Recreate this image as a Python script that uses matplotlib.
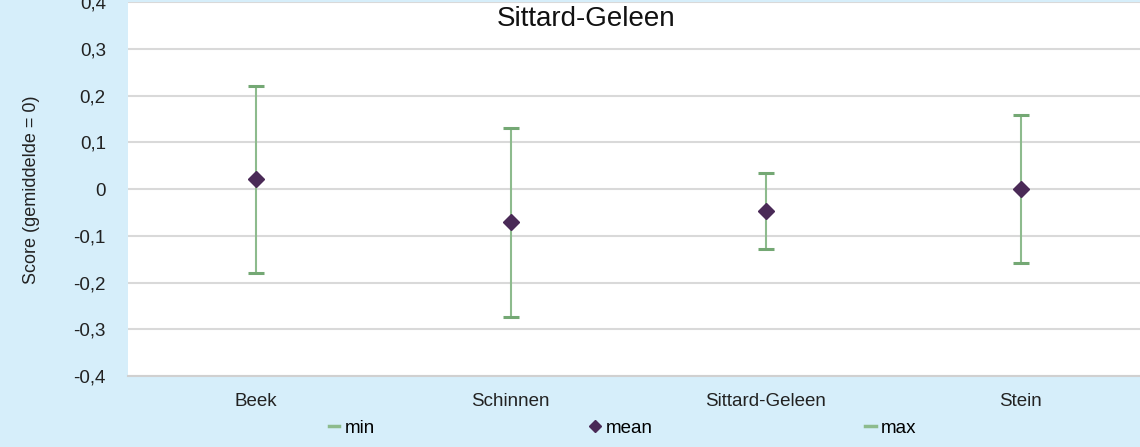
import matplotlib
matplotlib.use("Agg")
import matplotlib.pyplot as plt
from matplotlib.lines import Line2D
from matplotlib.ticker import FuncFormatter

categories = ["Beek", "Schinnen", "Sittard-Geleen", "Stein"]
min_vals = [-0.180, -0.273, -0.128, -0.158]
mean_vals = [0.021, -0.071, -0.047, 0.001]
max_vals = [0.220, 0.130, 0.034, 0.158]

plt.rcParams['font.family'] = ['Liberation Sans', 'DejaVu Sans']

W, H = 1140, 447
fig = plt.figure(figsize=(W/100, H/100), dpi=100)
bg = '#D6EEFA'
fig.patch.set_facecolor(bg)

ax = fig.add_axes([128/W, 1-376/H, 1020/W, 374/H])
ax.set_facecolor('white')
x = list(range(len(categories)))

green = '#8DBB8D'
capc = '#74A874'
purple = '#4A2A57'

ax.vlines(x, min_vals, max_vals, color=green, lw=1.5, zorder=2)
ax.plot(x, min_vals, linestyle='none', marker='_', markersize=11, mew=2.2, color=capc, zorder=3)
ax.plot(x, max_vals, linestyle='none', marker='_', markersize=11, mew=2.2, color=capc, zorder=3)
ax.plot(x, mean_vals, linestyle='none', marker='D', markersize=8.5, color=purple, zorder=4)

ax.set_xlim(-0.5, len(categories)-0.5)
ax.set_ylim(-0.4, 0.4)
ax.set_yticks([i/10 for i in range(-4, 5)])
ax.yaxis.set_major_formatter(FuncFormatter(lambda v, p: ('0' if abs(v) < 1e-9 else f"{v:.1f}".replace('.', ','))))
ax.set_xticks(x)
ax.set_xticklabels(categories)
ax.grid(axis='y', color='#D9D9D9', lw=1.5, zorder=0)
ax.set_axisbelow(True)
for s in ['left', 'right', 'top']:
    ax.spines[s].set_visible(False)
ax.spines['bottom'].set_color('#D0D0D0')
ax.spines['bottom'].set_linewidth(1.5)
ax.tick_params(axis='both', length=0, labelsize=13.5, colors='#222222')
ax.tick_params(axis='y', pad=16)
ax.tick_params(axis='x', pad=12)

fig.text(32/W, 1-190/H, 'Score (gemiddelde = 0)', rotation=90, ha='center', va='center', fontsize=13, color='#222222')
fig.text(586/W, 1-19/H, 'Sittard-Geleen', ha='center', va='center', fontsize=20, color='#111111')

entries = [
    (Line2D([], [], color=green, lw=2.5), 'min', 352),
    (Line2D([], [], linestyle='none', marker='D', markersize=6, color=purple), 'mean', 621),
    (Line2D([], [], color=green, lw=2.5), 'max', 891),
]
for h, lab, cx in entries:
    fig.legend([h], [lab], loc='center', bbox_to_anchor=(cx/W, 1-428/H), frameon=False,
               fontsize=13.5, handlelength=0.55, handletextpad=0.3, borderpad=0, borderaxespad=0)

fig.savefig('out.png', dpi=100, facecolor=bg)
